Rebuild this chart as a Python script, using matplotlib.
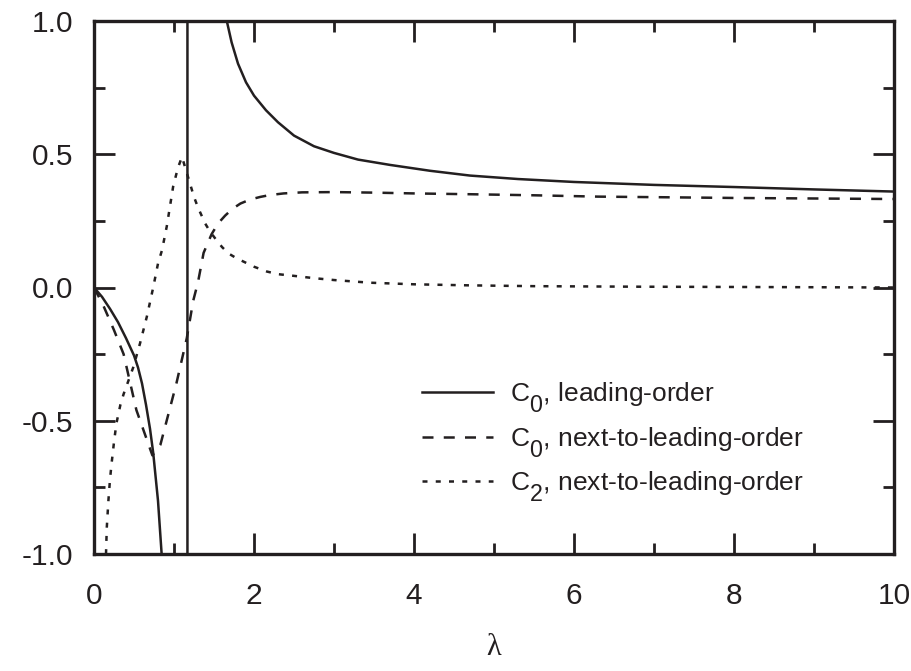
import matplotlib
matplotlib.use("Agg")
import matplotlib.pyplot as plt
from matplotlib.ticker import MultipleLocator, FormatStrFormatter

# the original legend uses big, deeply dropped subscripts
try:
    import matplotlib._mathtext as _mt
    _mt.SHRINK_FACTOR = 0.88
    _mt.FontConstantsBase.sub1 = 0.85
except Exception:
    pass

plt.rcParams.update({
    "font.family": ["Liberation Sans", "DejaVu Sans"],
    "mathtext.fontset": "custom",
    "mathtext.rm": "Liberation Sans",
    "mathtext.it": "Liberation Sans",
    "axes.unicode_minus": False,
})

INK = "#231f20"

# C0 leading order: lower branch, pole at lambda ~ 1.17 (drawn as vertical jump), upper branch
lo_lam = [0.0, 0.1, 0.2, 0.3, 0.4, 0.5, 0.55, 0.6, 0.65, 0.7, 0.74, 0.8, 0.85, 0.9, 1.0, 1.1, 1.16, 1.168,
          1.168, 1.18, 1.22, 1.3, 1.4, 1.5, 1.66, 1.72, 1.8, 1.9, 2.0, 2.15, 2.3, 2.5, 2.75, 3.0, 3.3, 3.7,
          4.2, 4.7, 5.3, 6.0, 7.0, 8.0, 9.0, 10.0]
lo_c0 = [0.0, -0.035, -0.08, -0.13, -0.19, -0.255, -0.30, -0.36, -0.44, -0.53, -0.62, -0.80, -1.02, -1.3, -2.0, -5.0, -30.0, -100.0,
         100.0, 30.0, 6.0, 2.8, 1.7, 1.3, 1.0, 0.92, 0.84, 0.77, 0.72, 0.665, 0.62, 0.57, 0.53, 0.505, 0.48, 0.46,
         0.438, 0.42, 0.407, 0.396, 0.385, 0.377, 0.368, 0.36]

# C0 next-to-leading order
nlo_lam = [0.0, 0.12, 0.25, 0.37, 0.53, 0.73, 0.83, 1.03, 1.16, 1.24, 1.30, 1.37, 1.47, 1.55, 1.64, 1.73, 1.83, 1.95, 2.08,
           2.2, 2.37, 2.6, 3.0, 3.5, 4.0, 4.7, 5.5, 6.3, 7.0, 8.0, 9.0, 10.0]
nlo_c0 = [0.0, -0.07, -0.16, -0.25, -0.46, -0.63, -0.59, -0.36, -0.19, -0.05, 0.02, 0.13, 0.20, 0.24, 0.27, 0.295, 0.315, 0.33, 0.34,
          0.347, 0.353, 0.357, 0.358, 0.356, 0.353, 0.35, 0.346, 0.341, 0.339, 0.336, 0.334, 0.332]

# C2 next-to-leading order
c2_lam = [0.14, 0.15, 0.16, 0.18, 0.2, 0.22, 0.25, 0.28, 0.33, 0.37, 0.43, 0.49, 0.575, 0.66, 0.74, 0.80, 0.85, 0.91, 0.99,
          1.05, 1.10, 1.15, 1.2, 1.25, 1.30, 1.39, 1.45, 1.53, 1.6, 1.68, 1.78, 1.87, 2.0, 2.16, 2.3, 2.49, 2.75,
          3.0, 3.45, 4.0, 4.7, 5.5, 6.8, 8.0, 10.0]
c2_nlo = [-1.1, -1.0, -0.9, -0.80, -0.72, -0.66, -0.58, -0.51, -0.44, -0.40, -0.35, -0.30, -0.21, -0.11, 0.0, 0.09, 0.14, 0.23, 0.38,
          0.45, 0.49, 0.44, 0.39, 0.34, 0.30, 0.24, 0.21, 0.178, 0.152, 0.128, 0.11, 0.097, 0.078, 0.06, 0.05, 0.044, 0.035,
          0.028, 0.018, 0.012, 0.008, 0.005, 0.003, 0.002, 0.0]

labels = [r"C$_0$, leading-order",
          r"C$_0$, next-to-leading-order",
          r"C$_2$, next-to-leading-order"]

fig = plt.figure(figsize=(9.11, 6.71), dpi=100)
ax = fig.add_axes([94 / 911, 1 - 554 / 671, 800 / 911, 533 / 671])

lw = 1.8
ax.plot(lo_lam, lo_c0, color=INK, lw=lw, label=labels[0])
ax.plot(nlo_lam, nlo_c0, color=INK, lw=lw, dashes=(4.4, 4.1), label=labels[1])
ax.plot(c2_lam, c2_nlo, color=INK, lw=lw, dashes=(2.0, 3.3), label=labels[2])

ax.set_xlim(0, 10)
ax.set_ylim(-1, 1)
ax.xaxis.set_major_locator(MultipleLocator(2))
ax.xaxis.set_minor_locator(MultipleLocator(1))
ax.yaxis.set_major_locator(MultipleLocator(0.5))
ax.yaxis.set_minor_locator(MultipleLocator(0.25))
ax.yaxis.set_major_formatter(FormatStrFormatter("%.1f"))

for s in ax.spines.values():
    s.set_linewidth(2.4)
    s.set_color(INK)
ax.tick_params(which="both", direction="in", top=True, right=True, colors=INK, width=2.0)
ax.tick_params(which="major", length=15, labelsize=21.5)
ax.tick_params(axis="x", which="major", pad=20)
ax.tick_params(axis="y", which="major", pad=15)
ax.tick_params(which="minor", length=8)

ax.set_xlabel("λ", family=["Liberation Serif", "DejaVu Serif"], fontsize=22, labelpad=17, color=INK)

leg = ax.legend(loc="upper left", bbox_to_anchor=(0.41, 0.326), frameon=False, fontsize=19,
                handlelength=2.7, handletextpad=0.65, labelspacing=0.37, borderpad=0, borderaxespad=0)
for t in leg.get_texts():
    t.set_color(INK)

fig.savefig("out.png", dpi=100)
